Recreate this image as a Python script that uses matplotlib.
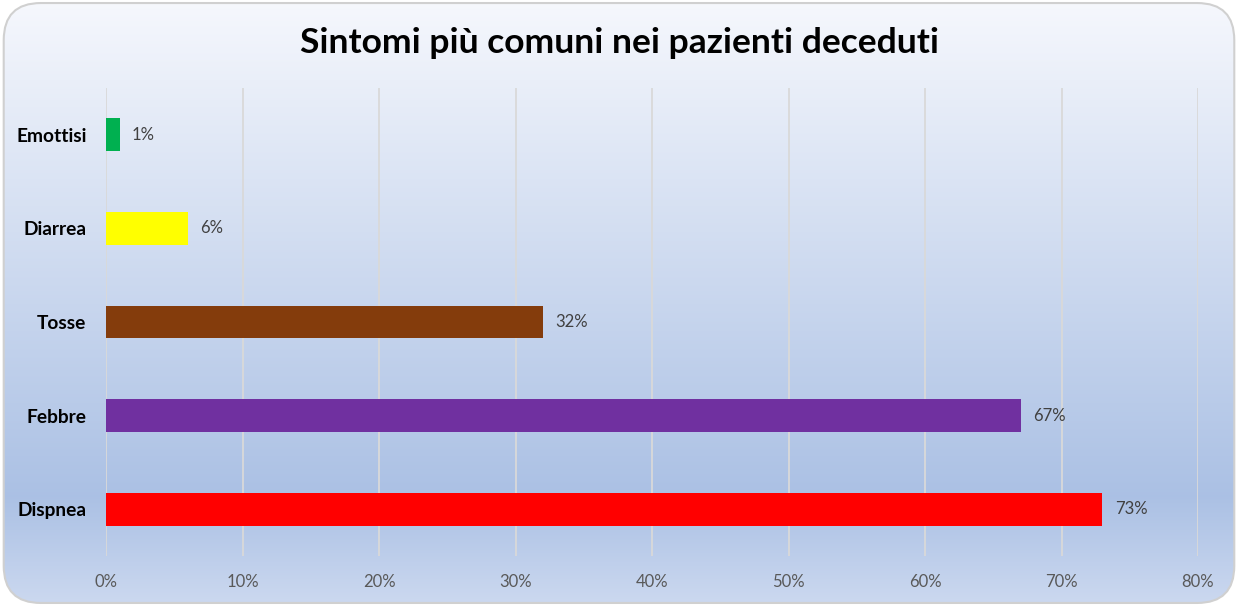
import matplotlib
matplotlib.use("Agg")
import matplotlib.pyplot as plt
import numpy as np
from matplotlib.patches import FancyBboxPatch
from matplotlib.ticker import FuncFormatter

categories = ["Dispnea", "Febbre", "Tosse", "Diarrea", "Emottisi"]
values = [73, 67, 32, 6, 1]
colors = ["#FF0000", "#7030A0", "#843C0C", "#FFFF00", "#00B050"]
xticks = [0, 10, 20, 30, 40, 50, 60, 70, 80]
title = "Sintomi più comuni nei pazienti deceduti"

plt.rcParams['font.family'] = ['Lato', 'DejaVu Sans']

fig = plt.figure(figsize=(12.38, 6.06), dpi=100)
fig.patch.set_facecolor("white")

# background gradient
bg = fig.add_axes([0, 0, 1, 1], zorder=0)
bg.set_axis_off()
stops = np.array([0.0, 0.82, 1.0])
c_top = np.array([0.965, 0.972, 0.992])
c_mid = np.array([0.67, 0.755, 0.895])
c_bot = np.array([0.80, 0.85, 0.94])
t = np.linspace(0, 1, 400)
grad = np.zeros((400, 1, 3))
for ch in range(3):
    grad[:, 0, ch] = np.interp(t, stops, [c_top[ch], c_mid[ch], c_bot[ch]])
im = bg.imshow(grad, aspect="auto", extent=[0, 1, 0, 1], transform=bg.transAxes)
bg.set_xlim(0, 1); bg.set_ylim(0, 1)
box = FancyBboxPatch((0.003, 0.005), 0.994, 0.99,
                     boxstyle="round,pad=0,rounding_size=0.03",
                     transform=bg.transAxes, facecolor="none",
                     edgecolor="#D0D0D0", linewidth=1.5, mutation_aspect=1238/606)
bg.add_patch(box)
im.set_clip_path(box)

ax = fig.add_axes([106/1238, 1 - 556/606, (1198 - 106)/1238, (556 - 88)/606], zorder=1)
ax.patch.set_alpha(0)
y = np.arange(len(categories))
ax.barh(y, values, height=0.35, color=colors, zorder=3)
ax.set_xlim(0, 80)
ax.set_ylim(-0.5, len(categories) - 0.5)
ax.set_xticks(xticks)
ax.xaxis.set_major_formatter(FuncFormatter(lambda v, p: f"{int(v)}%"))
ax.set_yticks(y)
ax.set_yticklabels(categories, fontsize=13.8, fontweight="bold", color="black")
ax.tick_params(axis="x", labelsize=12, colors="#595959", length=0, pad=13)
ax.tick_params(axis="y", length=0, pad=14)
ax.grid(axis="x", color="#D9D9D9", linewidth=1.3, zorder=0)
for s in ax.spines.values():
    s.set_visible(False)

for yi, v in zip(y, values):
    ax.text(v + 0.9, yi, f"{v}%", va="center", ha="left", fontsize=12, color="#404040")

fig.text(0.5, 1 - 43/606, title, ha="center", va="center", fontsize=25.5, fontweight="bold", color="black")

fig.savefig("out.png", dpi=100)
